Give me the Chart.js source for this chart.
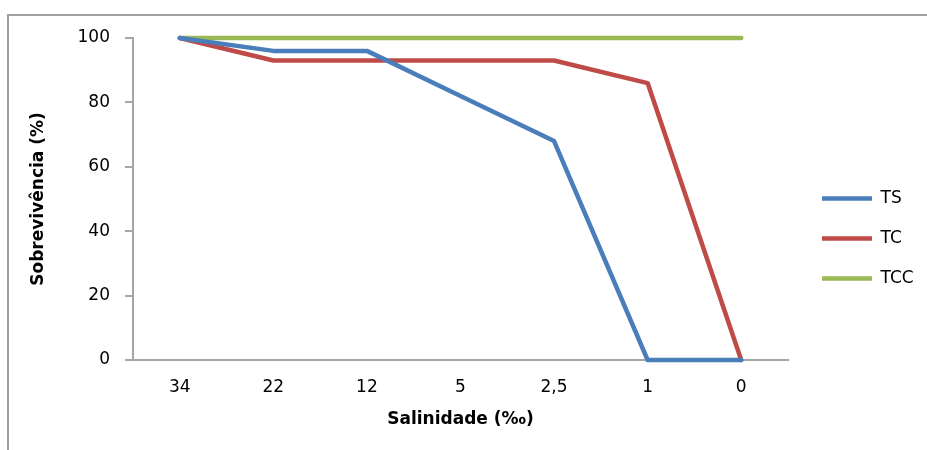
<!DOCTYPE html>
<html lang="pt">
<head>
  <meta charset="UTF-8">
  <title>Sobrevivência x Salinidade</title>
  <script src="https://cdn.jsdelivr.net/npm/chart.js"></script>
  <style>
    html, body { margin: 0; padding: 0; background: #fff; }
    #chart { display: block; }
  </style>
</head>
<body>
  <canvas id="chart" width="927" height="450"></canvas>
  <script>
    // data
    const salinity = ['34', '22', '12', '5', '2,5', '1', '0'];
    const ts  = [100, 96, 96, 82, 68, 0, 0];
    const tc  = [100, 93, 93, 93, 93, 86, 0];
    const tcc = [100, 100, 100, 100, 100, 100, 100];
    const yTicks = [0, 20, 40, 60, 80, 100];

    const FONT = "'DejaVu Sans', sans-serif";

    // gray frame around the figure + legend placement
    const framePlugin = {
      id: 'frame',
      afterLayout(chart) {
        const lg = chart.legend;
        lg.left = 799;
        lg.right = 927;
        lg.top = 167;
        lg.bottom = 450;
      },
      beforeDraw(chart) {
        const ctx = chart.ctx;
        ctx.save();
        ctx.strokeStyle = '#a0a0a0';
        ctx.lineWidth = 2;
        ctx.beginPath();
        ctx.moveTo(8, 451);
        ctx.lineTo(8, 15);
        ctx.lineTo(928, 15);
        ctx.stroke();
        ctx.restore();
      }
    };

    function line(label, data, color) {
      return {
        label, data,
        borderColor: color,
        backgroundColor: color,
        borderWidth: 4.5,
        borderCapStyle: 'round',
        borderJoinStyle: 'round',
        pointRadius: 0,
        pointHoverRadius: 0,
        tension: 0,
        fill: false,
        clip: false
      };
    }

    new Chart(document.getElementById('chart'), {
      type: 'line',
      data: {
        labels: salinity,
        datasets: [
          line('TS', ts, '#4a7ebb'),
          line('TC', tc, '#be4b48'),
          line('TCC', tcc, '#98b954')
        ]
      },
      options: {
        responsive: false,
        animation: false,
        layout: { padding: { top: 38, right: 139, bottom: 0, left: 0 } },
        plugins: {
          tooltip: { enabled: false },
          legend: {
            position: 'chartArea',
            align: 'start',
            labels: {
              usePointStyle: true,
              pointStyle: 'line',
              pointStyleWidth: 50,
              padding: 23,
              color: '#000',
              font: { family: FONT, size: 17 }
            }
          }
        },
        scales: {
          x: {
            offset: true,
            grid: { display: false, drawTicks: false },
            border: { color: '#a6a6a6', width: 2 },
            ticks: {
              color: '#000',
              padding: 17,
              autoSkip: false,
              maxRotation: 0,
              font: { family: FONT, size: 17 }
            },
            title: {
              display: true,
              text: 'Salinidade (‰)',
              color: '#000',
              padding: { top: 0, bottom: 20 },
              font: { family: FONT, size: 17, weight: 'bold' }
            },
            afterFit(scale) { scale.height = 90; }
          },
          y: {
            min: 0,
            max: 100,
            afterBuildTicks(scale) { scale.ticks = yTicks.map(v => ({ value: v })); },
            grid: { drawOnChartArea: false, drawTicks: true, tickLength: 8, color: '#a6a6a6', lineWidth: 2 },
            border: { color: '#a6a6a6', width: 2 },
            ticks: {
              color: '#000',
              padding: 15,
              font: { family: FONT, size: 17 }
            },
            title: {
              display: true,
              text: 'Sobrevivência (%)',
              color: '#000',
              padding: { top: 28, bottom: 0 },
              font: { family: FONT, size: 17, weight: 'bold' }
            },
            afterFit(scale) { scale.width = 133; }
          }
        }
      },
      plugins: [framePlugin]
    });
  </script>
</body>
</html>
